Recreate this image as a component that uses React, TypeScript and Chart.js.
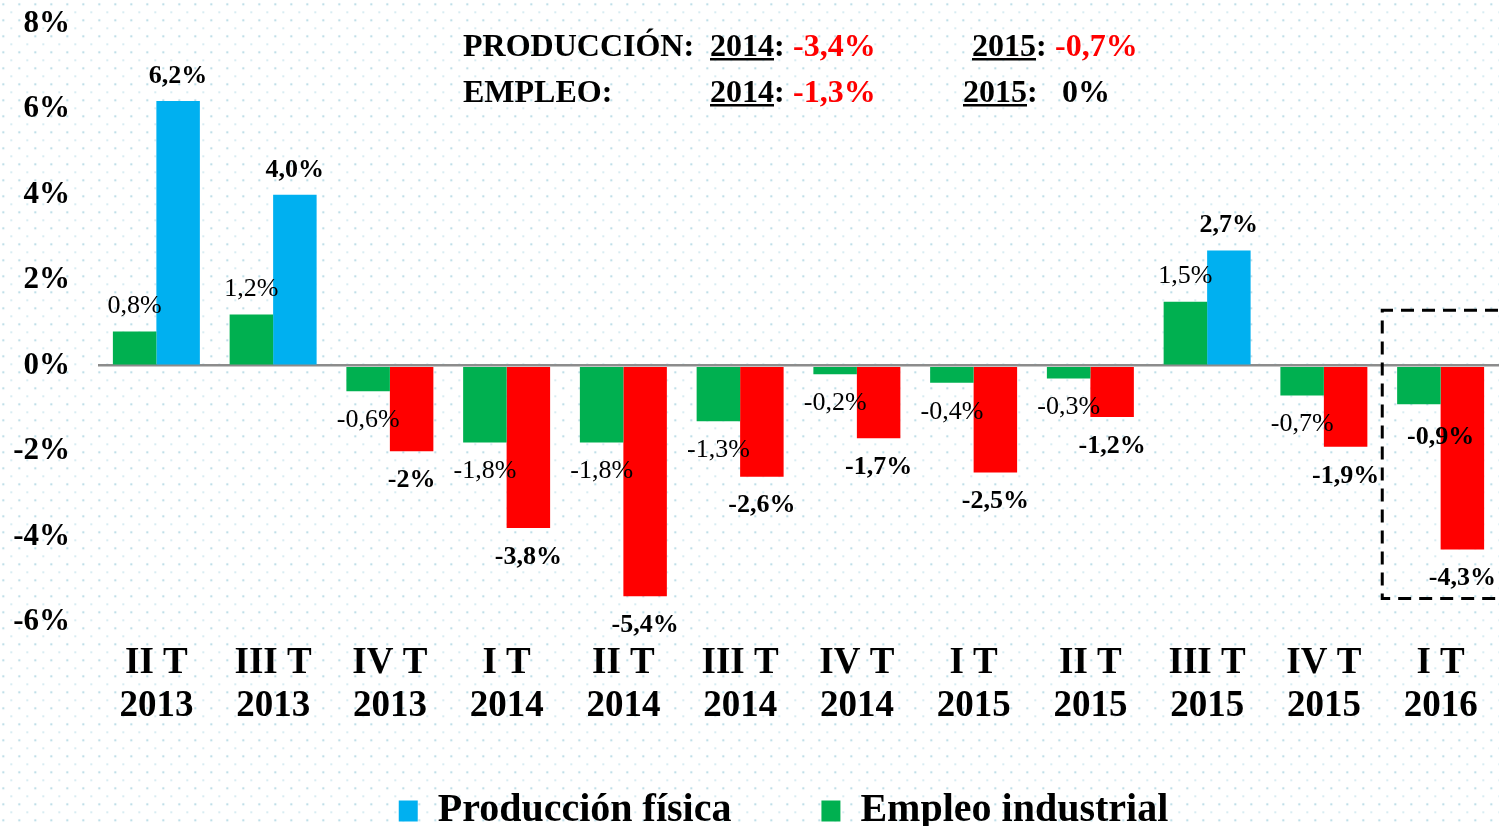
import React, { useEffect, useRef } from 'react';
import { Chart, registerables } from 'chart.js';

Chart.register(...registerables);

// ---------- data ----------
const CATEGORIES: string[][] = [
  ['II T', '2013'], ['III T', '2013'], ['IV T', '2013'],
  ['I T', '2014'], ['II T', '2014'], ['III T', '2014'], ['IV T', '2014'],
  ['I T', '2015'], ['II T', '2015'], ['III T', '2015'], ['IV T', '2015'],
  ['I T', '2016'],
];
const EMPLEO = [0.8, 1.2, -0.6, -1.8, -1.8, -1.3, -0.2, -0.4, -0.3, 1.5, -0.7, -0.9];
const PRODUCCION = [6.2, 4.0, -2, -3.8, -5.4, -2.6, -1.7, -2.5, -1.2, 2.7, -1.9, -4.3];
const EMPLEO_LABELS = ['0,8%', '1,2%', '-0,6%', '-1,8%', '-1,8%', '-1,3%', '-0,2%', '-0,4%', '-0,3%', '1,5%', '-0,7%', '-0,9%'];
const PRODUCCION_LABELS = ['6,2%', '4,0%', '-2%', '-3,8%', '-5,4%', '-2,6%', '-1,7%', '-2,5%', '-1,2%', '2,7%', '-1,9%', '-4,3%'];
const SERIES_NAMES = ['Empleo industrial', 'Producción física'];
const Y_MIN = -6;
const Y_MAX = 8;
const Y_STEP = 2;
const SUMMARY_LABELS = ['PRODUCCIÓN:', 'EMPLEO:'];
const SUMMARY_YEARS = ['2014', '2015'];
const SUMMARY_2014 = ['-3,4%', '-1,3%'];
const SUMMARY_2015 = ['-0,7%', '0%'];
const HIGHLIGHT_INDEX = 11;
const HIGHLIGHT_TOP = 1.3;
const HIGHLIGHT_BOTTOM = -5.45;

// ---------- styles ----------
const FONT = "'Liberation Serif', 'Times New Roman', serif";
const BLUE = '#00B0F0';
const RED = '#FF0000';
const GREEN = '#00B050';
const EMPLEO_BOLD = EMPLEO.map((_, i) => i === HIGHLIGHT_INDEX);

const barLabelPlugin = {
  id: 'barLabels',
  afterDatasetsDraw(chart: any) {
    const ctx = chart.ctx;
    ctx.save();
    ctx.textAlign = 'center';
    ctx.textBaseline = 'middle';
    ctx.fillStyle = '#000';
    chart.data.datasets.forEach((ds: any, di: number) => {
      const meta = chart.getDatasetMeta(di);
      meta.data.forEach((el: any, i: number) => {
        const v = ds.data[i];
        const isProd = di === 1;
        const bold = isProd || EMPLEO_BOLD[i];
        const text = isProd ? PRODUCCION_LABELS[i] : EMPLEO_LABELS[i];
        ctx.font = `${bold ? 'bold ' : ''}26px ${FONT}`;
        let x = el.x;
        let y = v >= 0 ? el.y - 25 : el.y + 29;
        if (!isProd && EMPLEO_BOLD[i]) {
          x = el.x + el.width / 2;
          y = el.y + 33;
        }
        ctx.fillText(text, x, y);
      });
    });
    ctx.restore();
  },
};

const overlayPlugin = {
  id: 'overlay',
  afterDraw(chart: any) {
    const ctx = chart.ctx;
    const xs = chart.scales.x;
    const ys = chart.scales.y;
    // dashed highlight box
    const cx = xs.getPixelForValue(HIGHLIGHT_INDEX);
    const half = (cx - xs.getPixelForValue(HIGHLIGHT_INDEX - 1)) / 2;
    const left = cx - half;
    const top = ys.getPixelForValue(HIGHLIGHT_TOP);
    const bottom = ys.getPixelForValue(HIGHLIGHT_BOTTOM);
    const right = chart.width + 20;
    ctx.save();
    ctx.strokeStyle = '#000';
    ctx.lineWidth = 3;
    ctx.setLineDash([13, 8]);
    ctx.beginPath();
    ctx.moveTo(right, top);
    ctx.lineTo(left, top);
    ctx.lineTo(left, bottom);
    ctx.lineTo(right, bottom);
    ctx.stroke();
    ctx.restore();

    // summary text
    ctx.save();
    ctx.font = `bold 32px ${FONT}`;
    ctx.textAlign = 'left';
    ctx.textBaseline = 'alphabetic';
    const rowsY = [56, 102];
    const year2015X = [972, 963];
    const val2015X = [1055, 1062];
    const drawYear = (txt: string, x: number, y: number) => {
      ctx.fillStyle = '#000';
      ctx.fillText(txt, x, y);
      const w = ctx.measureText(txt).width;
      ctx.fillRect(x, y + 2, w, 2.5);
      ctx.fillText(':', x + w, y);
    };
    SUMMARY_LABELS.forEach((lab, r) => {
      const y = rowsY[r];
      ctx.fillStyle = '#000';
      ctx.fillText(lab, 463, y);
      drawYear(SUMMARY_YEARS[0], 710, y);
      ctx.fillStyle = SUMMARY_2014[r].startsWith('-') ? RED : '#000';
      ctx.fillText(SUMMARY_2014[r], 793, y);
      drawYear(SUMMARY_YEARS[1], year2015X[r], y);
      ctx.fillStyle = SUMMARY_2015[r].startsWith('-') ? RED : '#000';
      ctx.fillText(SUMMARY_2015[r], val2015X[r], y);
    });
    ctx.restore();
  },
};

export default function App() {
  const canvasRef = useRef<HTMLCanvasElement | null>(null);

  useEffect(() => {
    document.body.style.margin = '0';
    const canvas = canvasRef.current;
    if (!canvas) return;
    const chart = new Chart(canvas, {
      type: 'bar',
      data: {
        labels: CATEGORIES,
        datasets: [
          {
            label: SERIES_NAMES[0],
            data: EMPLEO,
            backgroundColor: GREEN,
            borderWidth: 0,
            categoryPercentage: 0.745,
            barPercentage: 1.0,
          },
          {
            label: SERIES_NAMES[1],
            data: PRODUCCION,
            backgroundColor: PRODUCCION.map((v) => (v >= 0 ? BLUE : RED)),
            borderWidth: 0,
            categoryPercentage: 0.745,
            barPercentage: 1.0,
          },
        ],
      },
      options: {
        responsive: false,
        animation: false,
        devicePixelRatio: 1,
        layout: { padding: { top: 24, left: 0, right: 0, bottom: 0 } },
        plugins: {
          tooltip: { enabled: false },
          legend: {
            position: 'bottom',
            fullSize: false,
            labels: {
              font: { family: FONT, size: 40, weight: 'bold' },
              color: '#000',
              boxWidth: 19,
              boxHeight: 21,
              padding: 10,
              generateLabels: () => [
                { text: SERIES_NAMES[1] + '\u2003\u2003', fillStyle: BLUE, strokeStyle: BLUE, lineWidth: 0, hidden: false, datasetIndex: 1, fontColor: '#000' },
                { text: SERIES_NAMES[0] + '   ', fillStyle: GREEN, strokeStyle: GREEN, lineWidth: 0, hidden: false, datasetIndex: 0, fontColor: '#000' },
              ],
            },
          },
        },
        scales: {
          x: {
            grid: { display: false, drawTicks: false },
            border: { display: false },
            ticks: {
              font: { family: FONT, size: 37, weight: 'bold', lineHeight: 1.17 },
              color: '#000',
              padding: 20,
              maxRotation: 0,
              autoSkip: false,
            },
            afterFit: (s: any) => { s.height = 159; },
          },
          y: {
            min: Y_MIN,
            max: Y_MAX,
            grid: {
              drawTicks: true,
              tickLength: 28,
              tickColor: 'rgba(0,0,0,0)',
              color: (c: any) => (c.tick && c.tick.value === 0 ? '#8c8c8c' : 'rgba(0,0,0,0)'),
              lineWidth: (c: any) => (c.tick && c.tick.value === 0 ? 2.5 : 0),
            },
            border: { display: false },
            ticks: {
              stepSize: Y_STEP,
              font: { family: FONT, size: 31, weight: 'bold' },
              color: '#000',
              padding: 0,
              callback: (v: any) => `${v}%`,
            },
            afterFit: (s: any) => { s.width = 98; },
          },
        },
      },
      plugins: [barLabelPlugin, overlayPlugin],
    } as any);
    return () => chart.destroy();
  }, []);

  const dots =
    'radial-gradient(circle, #bfdfe8 1.1px, rgba(255,255,255,0) 1.6px), radial-gradient(circle, #d8ecf2 1px, rgba(255,255,255,0) 1.5px)';

  return (
    <div
      style={{
        width: 1499,
        height: 826,
        overflow: 'hidden',
        position: 'relative',
        backgroundColor: '#fff',
        backgroundImage: dots,
        backgroundSize: '16px 16px, 16px 16px',
        backgroundPosition: '-4.7px -3.7px, 3.3px 4.3px',
      }}
    >
      <canvas ref={canvasRef} width={1499} height={841} style={{ display: 'block', width: 1499, height: 841 }} />
    </div>
  );
}
